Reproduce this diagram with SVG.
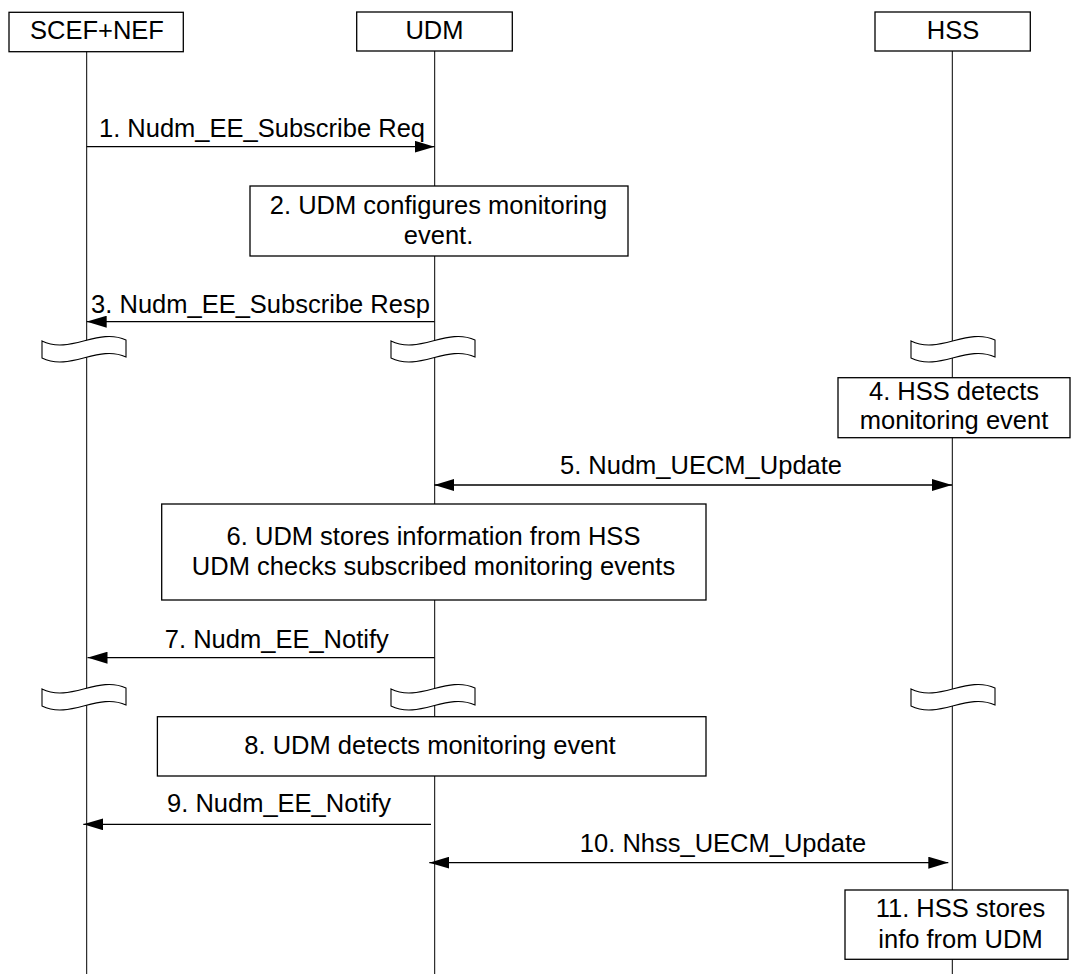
<svg xmlns="http://www.w3.org/2000/svg" xmlns:xlink="http://www.w3.org/1999/xlink" width="1071" height="974" viewBox="0 0 1071 974">
<style>
text{font-family:"Liberation Sans",Arial,sans-serif;font-size:25.5px;fill:#000;text-anchor:middle}
.box{fill:#fff;stroke:#000;stroke-width:1.3}
.life{stroke:#000;stroke-width:1}
.msg{stroke:#000;stroke-width:1.3;fill:none}
.brk{fill:#fff;stroke:#000;stroke-width:1.1}
</style>
<defs>
<marker id="ah" markerUnits="userSpaceOnUse" markerWidth="20" markerHeight="12" refX="20" refY="6" orient="auto-start-reverse">
<path d="M0,0 L20,6 L0,12 Z" fill="#000"/>
</marker>
<path id="brkshape" class="brk" d="M0,0 C28,14 56,-14 84,-1 L84,16 C56,3 28,31 0,17 Z"/>
</defs>
<rect width="1071" height="974" fill="#fff"/>
<g id="lifelines">
<line class="life" x1="86.7" y1="51" x2="86.7" y2="974"/>
<line class="life" x1="434.7" y1="51" x2="434.7" y2="974"/>
<line class="life" x1="952.3" y1="51" x2="952.3" y2="974"/>
</g>
<g id="node-scef">
<rect class="box" x="9" y="12.3" width="174.3" height="39.4"/>
<text x="97" y="39">SCEF+NEF</text>
</g>
<g id="node-udm">
<rect class="box" x="356.7" y="12" width="155.6" height="39"/>
<text x="434.5" y="39">UDM</text>
</g>
<g id="node-hss">
<rect class="box" x="875" y="12" width="155.3" height="39"/>
<text x="953" y="39">HSS</text>
</g>
<g id="step2">
<rect class="box" x="250" y="186" width="378" height="70"/>
<text x="438.5" y="214">2. UDM configures monitoring</text>
<text x="438.5" y="243.5">event.</text>
</g>
<g id="breaks">
<use href="#brkshape" xlink:href="#brkshape" x="42" y="341"/>
<use href="#brkshape" xlink:href="#brkshape" x="391" y="341"/>
<use href="#brkshape" xlink:href="#brkshape" x="911" y="341"/>
<use href="#brkshape" xlink:href="#brkshape" x="42" y="689"/>
<use href="#brkshape" xlink:href="#brkshape" x="391" y="689"/>
<use href="#brkshape" xlink:href="#brkshape" x="911" y="689"/>
</g>
<g id="step4">
<rect class="box" x="838" y="377.7" width="232" height="60"/>
<text x="954" y="400">4. HSS detects</text>
<text x="954" y="429">monitoring event</text>
</g>
<g id="step6">
<rect class="box" x="161.7" y="504" width="544.3" height="96"/>
<text x="433.5" y="545">6. UDM stores information from HSS</text>
<text x="433.5" y="575">UDM checks subscribed monitoring events</text>
</g>
<g id="step8">
<rect class="box" x="157.4" y="716.7" width="548.6" height="59.3"/>
<text x="430" y="754.3">8. UDM detects monitoring event</text>
</g>
<g id="step11">
<rect class="box" x="845" y="890" width="223" height="69.3"/>
<text x="960.5" y="916.7">11. HSS stores</text>
<text x="960.5" y="948.3">info from UDM</text>
</g>
<g id="connectors">
<line class="msg" x1="86.7" y1="146.7" x2="434.5" y2="146.7" marker-end="url(#ah)"/>
<text x="262" y="137">1. Nudm_EE_Subscribe Req</text>
<line class="msg" x1="434.5" y1="321.7" x2="86.7" y2="321.7" marker-end="url(#ah)"/>
<text x="260.5" y="313">3. Nudm_EE_Subscribe Resp</text>
<line class="msg" x1="434.3" y1="485" x2="952" y2="485" marker-start="url(#ah)" marker-end="url(#ah)"/>
<text x="701" y="474">5. Nudm_UECM_Update</text>
<line class="msg" x1="434.5" y1="657.7" x2="87.5" y2="657.7" marker-end="url(#ah)"/>
<text x="276.8" y="648.3">7. Nudm_EE_Notify</text>
<line class="msg" x1="431" y1="824.3" x2="83.3" y2="824.3" marker-end="url(#ah)"/>
<text x="279" y="812.3">9. Nudm_EE_Notify</text>
<line class="msg" x1="429.3" y1="862.7" x2="948.3" y2="862.7" marker-start="url(#ah)" marker-end="url(#ah)"/>
<text x="723" y="851.5">10. Nhss_UECM_Update</text>
</g>
</svg>
